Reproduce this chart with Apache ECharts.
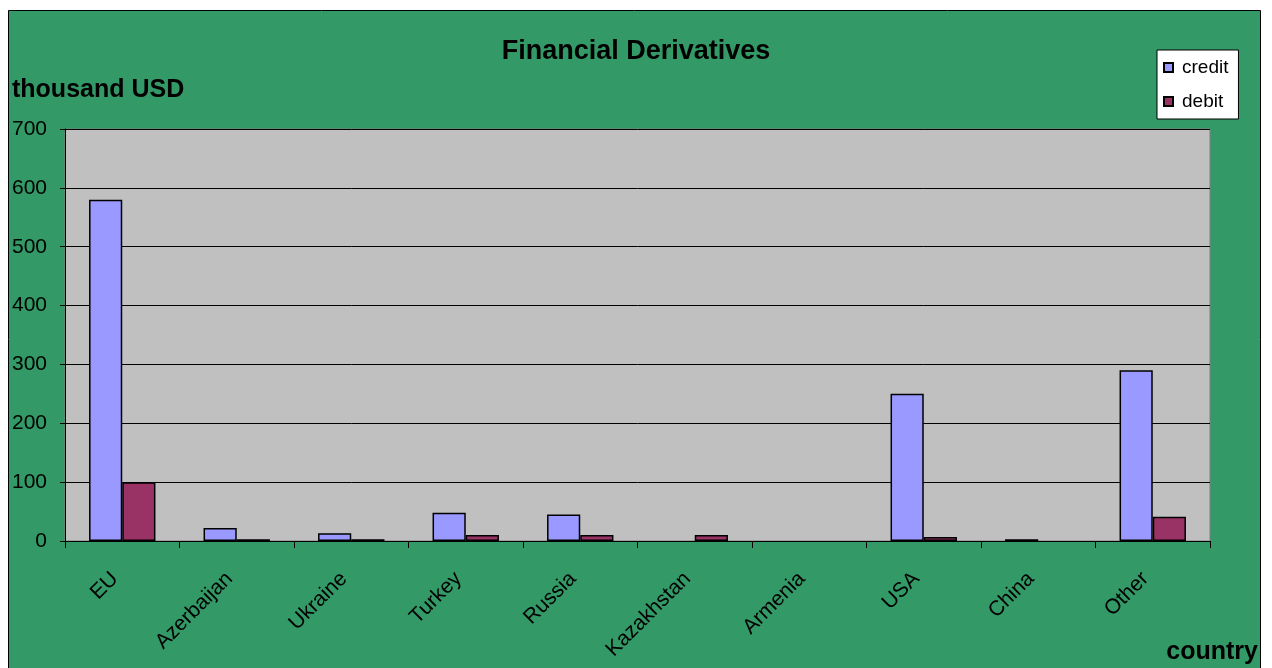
<!DOCTYPE html>
<html>
<head>
<meta charset="utf-8">
<script src="https://cdn.jsdelivr.net/npm/echarts@6/dist/echarts.min.js"></script>
<style>
  html, body { margin: 0; padding: 0; background: #ffffff; }
  #chart { width: 1272px; height: 668px; }
</style>
</head>
<body>
<div id="chart"></div>
<script>
// Financial derivatives by partner country, thousand USD
const countries = ['EU', 'Azerbaijan', 'Ukraine', 'Turkey', 'Russia', 'Kazakhstan', 'Armenia', 'USA', 'China', 'Other'];
const credit = [580, 22, 13, 48, 45, 0, 0, 250, 3, 290];
const debit = [100, 3, 3, 10, 10, 10, 0, 7, 0, 41];
const yTicks = { min: 0, max: 700, step: 100 };

const FONT = '"Liberation Sans", Arial, sans-serif';

// zero values get no outline, so they leave no visible mark
const toBarData = arr => arr.map(v => (v === 0 ? { value: 0, itemStyle: { borderWidth: 0 } } : v));

const chart = echarts.init(document.getElementById('chart'), null, { renderer: 'canvas' });

chart.setOption({
  animation: false,
  backgroundColor: '#ffffff',
  textStyle: { fontFamily: FONT, color: '#000' },
  graphic: [
    {
      type: 'rect',
      z: -10,
      shape: { x: 8.5, y: 10.5, width: 1252, height: 680 },
      style: { fill: '#339966', stroke: '#000', lineWidth: 1 }
    },
    {
      type: 'text',
      left: 12, top: 78,
      style: { text: 'thousand USD', font: 'bold 25px ' + FONT, fill: '#000' }
    },
    {
      type: 'text',
      right: 14, top: 640,
      style: { text: 'country', font: 'bold 25px ' + FONT, fill: '#000' }
    }
  ],
  title: {
    text: 'Financial Derivatives',
    left: 'center',
    top: 33,
    textStyle: { fontFamily: FONT, fontSize: 27, fontWeight: 'bold', color: '#000' }
  },
  legend: {
    orient: 'vertical',
    left: 1157,
    top: 50,
    backgroundColor: '#ffffff',
    borderColor: '#000',
    borderWidth: 1,
    borderRadius: 0,
    padding: [8, 10, 8, 6],
    itemWidth: 9,
    itemHeight: 9,
    itemGap: 15,
    icon: 'rect',
    textStyle: { fontFamily: FONT, fontSize: 19, color: '#000', padding: [0, 0, 0, 4] },
    data: ['credit', 'debit']
  },
  grid: {
    left: 65, right: 62, top: 129, bottom: 127,
    show: true,
    backgroundColor: '#c0c0c0',
    borderColor: '#808080',
    borderWidth: 1
  },
  xAxis: {
    type: 'category',
    data: countries,
    axisLine: { lineStyle: { color: '#000', width: 1 } },
    axisTick: { show: true, alignWithLabel: false, length: 7, lineStyle: { color: '#000' } },
    axisLabel: {
      rotate: 45,
      margin: 42,
      verticalAlign: 'bottom',
      fontFamily: FONT,
      fontSize: 21,
      color: '#000',
      interval: 0
    }
  },
  yAxis: {
    type: 'value',
    min: yTicks.min,
    max: yTicks.max,
    interval: yTicks.step,
    axisLine: { show: true, lineStyle: { color: '#000', width: 1 } },
    axisTick: { show: true, length: 5, lineStyle: { color: '#000' } },
    axisLabel: { margin: 18, fontFamily: FONT, fontSize: 21, color: '#000' },
    splitLine: { show: true, lineStyle: { color: '#000', width: 1 } }
  },
  series: [
    {
      name: 'credit',
      type: 'bar',
      data: toBarData(credit),
      barGap: '0%',
      barCategoryGap: '42%',
      itemStyle: { color: '#9999ff', borderColor: '#000', borderWidth: 1.5 }
    },
    {
      name: 'debit',
      type: 'bar',
      data: toBarData(debit),
      barGap: '0%',
      barCategoryGap: '42%',
      itemStyle: { color: '#993366', borderColor: '#000', borderWidth: 1.5 }
    }
  ]
});
</script>
</body>
</html>
